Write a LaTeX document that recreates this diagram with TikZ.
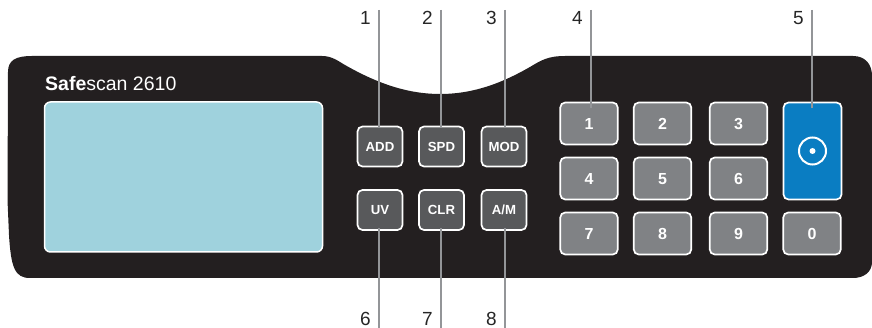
\documentclass[tikz,border=0pt]{standalone}
\usepackage{fontspec}
\setmainfont{Liberation Sans}
\usetikzlibrary{positioning}
\definecolor{panel}{HTML}{231F20}
\definecolor{screen}{HTML}{9FD2DD}
\definecolor{darkkey}{HTML}{58595B}
\definecolor{greykey}{HTML}{808285}
\definecolor{bluekey}{HTML}{0A7DC2}
\definecolor{leader}{HTML}{939598}
\tikzset{
	fnkey/.style = {draw = white, line width = 1.7pt, rounded corners = 5pt, fill = darkkey, text = white, font = \fontsize{13.2}{13.2}\selectfont\bfseries, minimum width = 45pt, minimum height = 40pt, inner sep = 0pt, text height = 9.5pt, text depth = 0pt},
	numkey/.style = {fnkey, fill = greykey, font = \fontsize{16}{16}\selectfont\bfseries, minimum width = 57.5pt, minimum height = 42pt, text height = 11.5pt},
	leadline/.style = {leader, line width = 2pt},
	callout/.style = {font = \fontsize{19}{19}\selectfont, text = black!85, inner sep = 0pt, text height = 13.6pt, text depth = 0pt}
}
\begin{document}
\begin{tikzpicture}[x = 1pt, y = -1pt]
	\useasboundingbox (0,0) rectangle (872,328);
	\fill [panel] (8,72) .. controls (8,60) and (16,56) .. (32,56) -- (322,56) .. controls (332,56) and (338,61) .. (345,65) .. controls (380,85) and (410,94) .. (440,94) .. controls (475,94) and (505,82) .. (535,64) .. controls (545,58) and (553,56) .. (565,56) -- (853,56) .. controls (865,56) and (872,64) .. (872,76) -- (872,262) .. controls (872,272) and (864,278) .. (853,278) -- (30,278) .. controls (15,278) and (11,268) .. (9,235) -- (7.5,200) -- cycle;
	\node (logo) [anchor = base west, inner sep = 0pt, text = white, font = \fontsize{19.5}{19.5}\selectfont] at (45,91) {\textbf{Safe}scan 2610};
	\node (display) [draw = white, line width = 1.5pt, rounded corners = 6pt, fill = screen, minimum width = 278pt, minimum height = 150pt, inner sep = 0pt] at (183.5,177) {};
	\foreach \name/\x/\y/\txt in {add/380/146.5/ADD,spd/441.5/146.5/SPD,mod/504/146.5/MOD,uv/380/210/UV,clr/441.5/210/CLR,am/504/210/{A/M}}{
	\node (\name) [fnkey] at (\x,\y) {\txt};
	}
	\foreach \n/\x/\y in {1/589/123.5,2/662.5/123.5,3/738.5/123.5,4/589/178.5,5/662.5/178.5,6/738.5/178.5,7/589/233.5,8/662.5/233.5,9/738.5/233.5,0/812/233.5}{
	\node (key\n) [numkey] at (\x,\y) {\n};
	}
	\node (start) [fnkey, fill = bluekey, minimum width = 58pt, minimum height = 97pt] at (812.5,151) {};
	\node (ring) [draw = white, line width = 2pt, circle, minimum size = 27pt, inner sep = 0pt] at (start.center) {};
	\node (dot) [fill = white, circle, minimum size = 6pt, inner sep = 0pt] at (start.center) {};
	\foreach \n/\x/\k/\d in {1/379/add/2pt,2/441/spd/2pt,3/505/mod/2pt,4/591/key1/6pt,5/812/start/6pt}{
	\coordinate (top\n) at (\x,10);
	\draw [leadline] (top\n) -- ([yshift = -\d]\k.north -| top\n);
	\node (num\n) [callout, anchor = center] at (\x-13.5,18) {\n};
	}
	\foreach \n/\x/\k in {6/379/uv,7/441/clr,8/505/am}{
	\coordinate (bot\n) at (\x,328);
	\draw [leadline] (bot\n) -- ([yshift = 3pt]\k.south -| bot\n);
	\node (num\n) [callout, anchor = center] at (\x-13.5,319) {\n};
	}
\end{tikzpicture}
\end{document}
